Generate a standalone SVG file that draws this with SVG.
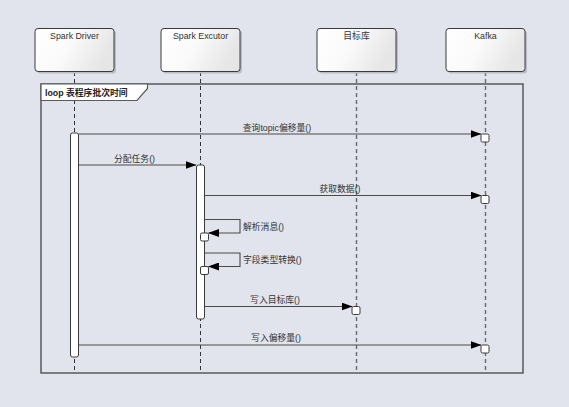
<svg xmlns="http://www.w3.org/2000/svg" width="569" height="407" viewBox="0 0 569 407">
<style>
.bg{fill:#e1e4ec}
.box{fill:url(#g);stroke:#3a3a3a;stroke-width:1}
.shadow{fill:#b9bcc4}
.ntext{font-family:"Liberation Sans","Noto Sans CJK SC",sans-serif;font-size:8.8px;fill:#333;text-anchor:middle}
.life{stroke:#333;stroke-width:1;stroke-dasharray:4,3;fill:none}
.life2{stroke:#6a6a6a;stroke-width:1.4;stroke-dasharray:4,3;fill:none}
.frame{fill:none;stroke:#5a5a5a;stroke-width:1.5}
.tag{fill:#fff;stroke:#5a5a5a;stroke-width:1.2}
.tagtext{font-family:"Liberation Sans","Noto Sans CJK SC",sans-serif;font-size:8.8px;font-weight:bold;fill:#222}
.act{fill:#fff;stroke:#3a3a3a;stroke-width:1}
.msg{fill:none;stroke:#4a4a4a;stroke-width:1.1;marker-end:url(#arr)}
.mtext{font-family:"Liberation Sans","Noto Sans CJK SC",sans-serif;font-size:8.8px;fill:#333;text-anchor:middle}
.stext{font-family:"Liberation Sans","Noto Sans CJK SC",sans-serif;font-size:8.8px;fill:#333}
.sq{fill:#fff;stroke:#3a3a3a;stroke-width:1}
</style>
<defs>
<linearGradient id="g" x1="0" y1="0" x2="1" y2="0.3">
<stop offset="0" stop-color="#ffffff"/>
<stop offset="0.5" stop-color="#fafafa"/>
<stop offset="1" stop-color="#e6e6e6"/>
</linearGradient>
<marker id="arr" markerWidth="11" markerHeight="8" refX="10.5" refY="4" orient="auto" markerUnits="userSpaceOnUse">
<path d="M0,0 L11,4 L0,8 Z" fill="#000"/>
</marker>
</defs>
<rect class="bg" x="0" y="0" width="569" height="407"/>

<g id="lifelines">
<line class="life" x1="74.5" y1="72" x2="74.5" y2="373"/>
<line class="life" x1="200.5" y1="72" x2="200.5" y2="373"/>
<line class="life2" x1="356.5" y1="72" x2="356.5" y2="373"/>
<line class="life2" x1="485.5" y1="72" x2="485.5" y2="373"/>
</g>

<g id="node-driver">
<rect class="shadow" x="37" y="30.5" width="79" height="43" rx="3"/>
<rect class="box" x="35" y="28.5" width="79" height="43" rx="3"/>
<text class="ntext" x="74.5" y="39">Spark Driver</text>
</g>
<g id="node-executor">
<rect class="shadow" x="163" y="30.5" width="79" height="43" rx="3"/>
<rect class="box" x="161" y="28.5" width="79" height="43" rx="3"/>
<text class="ntext" x="200.5" y="39">Spark Excutor</text>
</g>
<g id="node-target">
<rect class="shadow" x="319" y="30.5" width="79" height="43" rx="3"/>
<rect class="box" x="317" y="28.5" width="79" height="43" rx="3"/>
<text class="ntext" x="356.5" y="39">目标库</text>
</g>
<g id="node-kafka">
<rect class="shadow" x="448" y="30.5" width="79" height="43" rx="3"/>
<rect class="box" x="446" y="28.5" width="79" height="43" rx="3"/>
<text class="ntext" x="485.5" y="39">Kafka</text>
</g>

<g id="loop-frame">
<rect class="frame" x="41" y="84" width="482" height="289"/>
<path class="tag" d="M41,84 H147.5 V88.5 L137,100.5 H41 Z"/>
<text class="tagtext" x="45" y="95.5">loop 表程序批次时间</text>
</g>

<g id="activations">
<rect class="act" x="70.5" y="133" width="8" height="224" rx="2"/>
<rect class="act" x="196.5" y="165" width="8" height="154" rx="2"/>
</g>

<g id="connectors">
<line class="msg" x1="78.5" y1="134" x2="481" y2="134"/>
<text class="mtext" x="277" y="130.5">查询topic偏移量()</text>

<line class="msg" x1="78.5" y1="165" x2="196" y2="165"/>
<text class="mtext" x="134.5" y="161.5">分配任务()</text>

<line class="msg" x1="204.5" y1="195.5" x2="481" y2="195.5"/>
<text class="mtext" x="340" y="191.5">获取数据()</text>

<path class="msg" d="M204.5,219.5 H240 V233 H208.5"/>
<text class="stext" x="243" y="229.5">解析消息()</text>

<path class="msg" d="M204.5,253 H240 V266.5 H208.5"/>
<text class="stext" x="243" y="263">字段类型转换()</text>

<line class="msg" x1="204.5" y1="306.5" x2="352" y2="306.5"/>
<text class="mtext" x="275" y="302.5">写入目标库()</text>

<line class="msg" x1="78.5" y1="345" x2="481" y2="345"/>
<text class="mtext" x="276" y="341">写入偏移量()</text>
</g>

<g id="endpoints">
<rect class="sq" x="481" y="134" width="8" height="8" rx="1.5"/>
<rect class="sq" x="481" y="195.5" width="8" height="8" rx="1.5"/>
<rect class="sq" x="200.5" y="233" width="8" height="8" rx="1.5"/>
<rect class="sq" x="200.5" y="266.5" width="8" height="8" rx="1.5"/>
<rect class="sq" x="352" y="306.5" width="8" height="8" rx="1.5"/>
<rect class="sq" x="481" y="345" width="8" height="8" rx="1.5"/>
</g>
</svg>
